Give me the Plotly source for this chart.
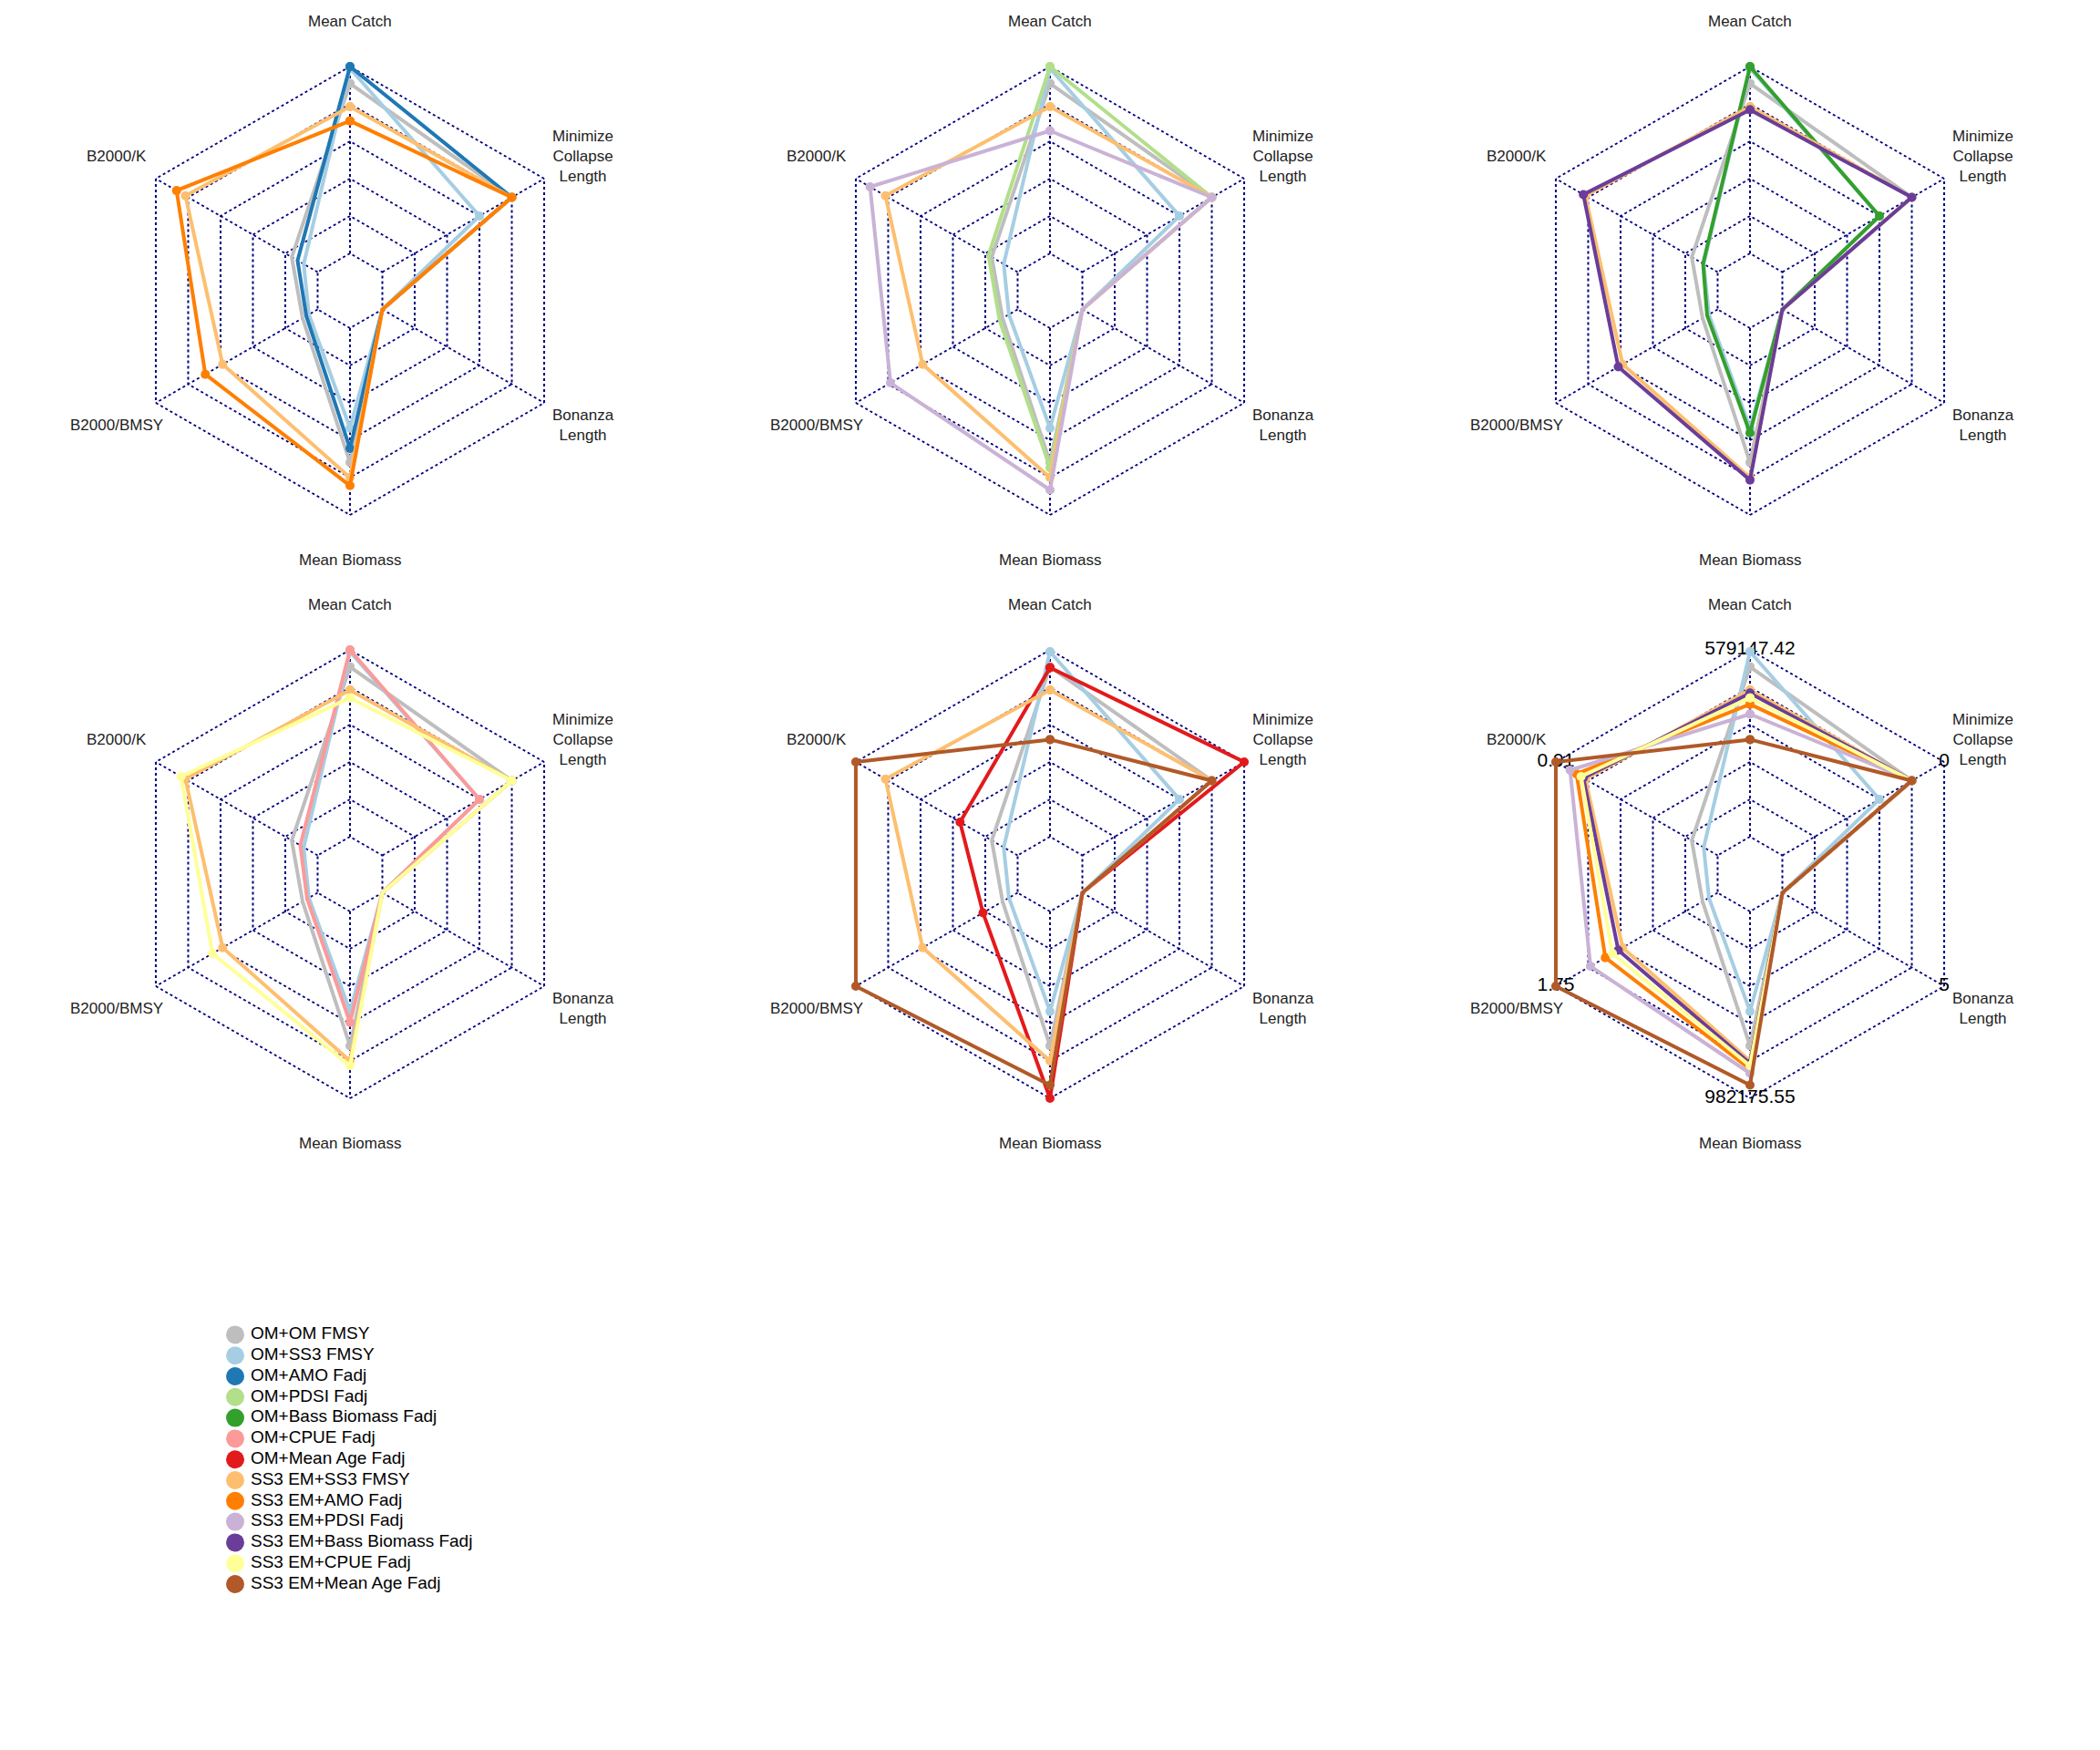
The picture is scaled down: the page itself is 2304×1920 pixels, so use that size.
import math
import plotly.graph_objects as go

# ---------------- data ----------------
categories = ["Mean Catch", "B2000/K", "B2000/BMSY", "Mean Biomass",
              "Bonanza Length", "Minimize Collapse Length"]
axis_labels = ["Mean Catch", "B2000/K", "B2000/BMSY", "Mean Biomass",
               "Bonanza<br>Length", "Minimize<br>Collapse<br>Length"]
axis_max_labels = ["579147.42", "0.91", "1.75", "982175.55", "5", "0"]

series_names = ["OM+OM FMSY", "OM+SS3 FMSY", "OM+AMO Fadj", "OM+PDSI Fadj",
                "OM+Bass Biomass Fadj", "OM+CPUE Fadj", "OM+Mean Age Fadj",
                "SS3 EM+SS3 FMSY", "SS3 EM+AMO Fadj", "SS3 EM+PDSI Fadj",
                "SS3 EM+Bass Biomass Fadj", "SS3 EM+CPUE Fadj", "SS3 EM+Mean Age Fadj"]
series_colors = ["#BEBEBE", "#A6CEE3", "#1F78B4", "#B2DF8A", "#33A02C", "#FB9A99",
                 "#E31A1C", "#FDBF6F", "#FF7F00", "#CAB2D6", "#6A3D9A", "#FFFF99", "#B15928"]

# scaled values (0 = axis minimum, 1 = axis maximum), in category order
om_om_fmsy      = [0.909, 0.160, 0.093, 0.719, 0.0, 0.8]
om_ss3_fmsy     = [0.990, 0.086, 0.054, 0.535, 0.0, 0.6]
om_amo          = [1.000, 0.124, 0.070, 0.644, 0.0, 0.8]
om_pdsi         = [1.000, 0.180, 0.112, 0.747, 0.0, 0.8]
om_bass         = [1.000, 0.090, 0.065, 0.561, 0.0, 0.6]
om_cpue         = [1.000, 0.107, 0.065, 0.594, 0.0, 0.6]
om_meanage      = [0.905, 0.356, 0.214, 1.000, 0.0, 1.0]
em_ss3_fmsy     = [0.785, 0.817, 0.587, 0.800, 0.0, 0.8]
em_amo          = [0.709, 0.872, 0.694, 0.843, 0.0, 0.8]
em_pdsi         = [0.656, 0.912, 0.786, 0.866, 0.0, 0.8]
em_bass         = [0.768, 0.830, 0.614, 0.813, 0.0, 0.8]
em_cpue         = [0.743, 0.844, 0.650, 0.826, 0.0, 0.8]
em_meanage      = [0.520, 1.000, 1.000, 0.929, 0.0, 0.8]

series_values = [om_om_fmsy, om_ss3_fmsy, om_amo, om_pdsi, om_bass, om_cpue, om_meanage,
                 em_ss3_fmsy, em_amo, em_pdsi, em_bass, em_cpue, em_meanage]

panels = [
    [0, 1, 2, 7, 8],
    [0, 1, 3, 7, 9],
    [0, 1, 4, 7, 10],
    [0, 1, 5, 7, 11],
    [0, 1, 6, 7, 12],
    [0, 1, 7, 8, 9, 10, 11, 12],
]

# ring levels of the radar grid (fmsb style: minimum ring + 5 segments)
ring_levels = [0.0, 0.2, 0.4, 0.6, 0.8, 1.0]

# ---------------- layout geometry ----------------
W, H = 2304, 1920
R = 246                      # pixel radius of the outer ring
R_MIN, R_MAX = -0.2, 1.02    # radial axis range (small margin outside outer ring)
R_DOM = R * (R_MAX - R_MIN) / (ring_levels[-1] - R_MIN)
FONT = "Liberation Sans, Arial, Helvetica, sans-serif"
NAVY = "#000080"
GRID_DASH = "3px,3px"

fig = go.Figure()
layout_polars = {}
annotations = []

theta_closed = categories + [categories[0]]

# spokes from the minimum ring to the maximum ring
spoke_r, spoke_t = [], []
for c in categories:
    spoke_r += [ring_levels[0], ring_levels[-1], None]
    spoke_t += [c, c, None]

for k, members in enumerate(panels):
    row, col = divmod(k, 3)
    cx = 384 + 768 * col
    cy = 319 + 640 * row
    pname = "polar" if k == 0 else f"polar{k+1}"

    layout_polars[pname] = dict(
        domain=dict(x=[(cx - R_DOM) / W, (cx + R_DOM) / W],
                    y=[1 - (cy + R_DOM) / H, 1 - (cy - R_DOM) / H]),
        gridshape="linear",
        bgcolor="white",
        radialaxis=dict(range=[R_MIN, R_MAX], tickvals=ring_levels,
                        showticklabels=False, ticks="", showline=False,
                        gridcolor=NAVY, gridwidth=2, griddash=GRID_DASH),
        angularaxis=dict(type="category", categoryorder="array", categoryarray=categories,
                         rotation=90, direction="counterclockwise",
                         showticklabels=False, ticks="", showline=False,
                         showgrid=False),
    )

    fig.add_trace(go.Scatterpolar(
        r=spoke_r, theta=spoke_t, mode="lines", connectgaps=False,
        line=dict(color=NAVY, width=2, dash=GRID_DASH),
        subplot=pname, showlegend=False, hoverinfo="skip"))

    if k == 5:
        fig.add_trace(go.Scatterpolar(
            r=[ring_levels[-1]] * 6, theta=categories, mode="text", text=axis_max_labels,
            textposition="middle center",
            textfont=dict(family=FONT, size=21, color="black"),
            subplot=pname, showlegend=False, hoverinfo="skip", cliponaxis=False))

    for i in members:
        vals = series_values[i]
        fig.add_trace(go.Scatterpolar(
            r=vals + [vals[0]], theta=theta_closed, mode="lines+markers",
            line=dict(color=series_colors[i], width=4),
            marker=dict(color=series_colors[i], size=10),
            name=series_names[i], subplot=pname, showlegend=False, cliponaxis=False))

    for j, lab in enumerate(axis_labels):
        ang = math.radians(90 + 60 * j)
        px = cx + 1.2 * R * math.cos(ang)
        py = cy - 1.2 * R * math.sin(ang)
        annotations.append(dict(
            x=px / W, y=1 - py / H, xref="paper", yref="paper", text=lab,
            showarrow=False, xanchor="center", yanchor="middle", align="center",
            font=dict(family=FONT, size=17, color="#222222")))

# ---------------- legend (drawn on a hidden cartesian axis) ----------------
LEG_LEFT, LEG_TOP, LEG_ROW = 248, 1453, 22.8
n = len(series_names)
fig.add_trace(go.Scatter(
    x=[10] * n, y=series_names, mode="markers",
    marker=dict(color=series_colors, size=20, line=dict(width=0)),
    showlegend=False, hoverinfo="skip", xaxis="x", yaxis="y"))
fig.add_trace(go.Scatter(
    x=[27] * n, y=series_names, mode="text", text=series_names,
    textposition="middle right",
    textfont=dict(family=FONT, size=19, color="black"),
    showlegend=False, hoverinfo="skip", xaxis="x", yaxis="y"))

fig.update_layout(
    width=W, height=H, margin=dict(l=0, r=0, t=0, b=0, pad=0),
    paper_bgcolor="white", plot_bgcolor="white",
    annotations=annotations,
    showlegend=False,
    xaxis=dict(domain=[LEG_LEFT / W, (LEG_LEFT + 500) / W], range=[0, 500],
               visible=False, fixedrange=True),
    yaxis=dict(domain=[1 - (LEG_TOP + n * LEG_ROW) / H, 1 - LEG_TOP / H],
               type="category", categoryorder="array", categoryarray=series_names,
               range=[n - 0.5, -0.5], visible=False, fixedrange=True),
    **layout_polars,
)

fig.write_html("out.html")
